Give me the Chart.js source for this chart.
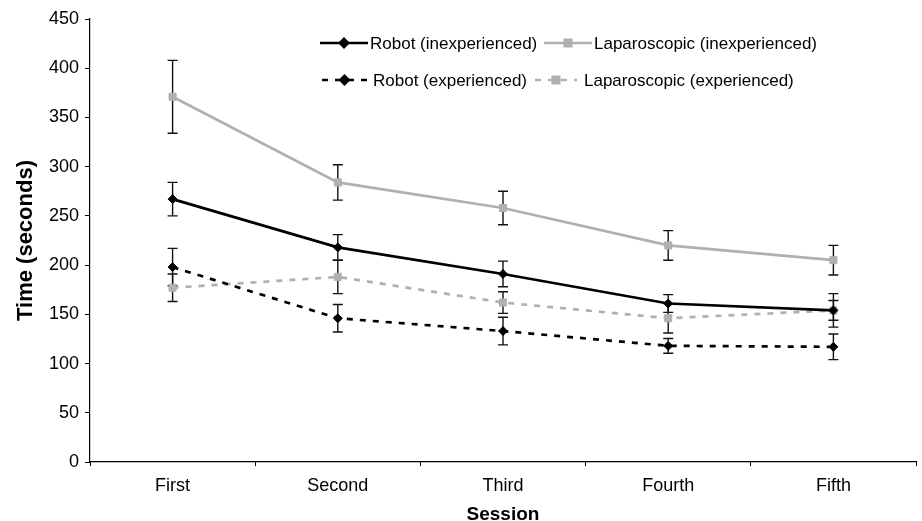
<!DOCTYPE html>
<html>
<head>
<meta charset="utf-8">
<script src="https://cdn.jsdelivr.net/npm/chart.js@4"></script>
<style>
  html, body { margin: 0; padding: 0; background: #fff; }
  #wrap { width: 922px; height: 521px; }
</style>
</head>
<body>
<div id="wrap"><canvas id="chart"></canvas></div>
<script>
// Data (seconds)
const sessions = ["First", "Second", "Third", "Fourth", "Fifth"];
const robotInexp = [267, 218, 191, 161, 154];
const robotInexpErr = [17, 13, 13, 9, 10];
const lapInexp = [371, 284, 258, 220, 205];
const lapInexpErr = [37, 18, 17, 15, 15];
const robotExp = [198, 146, 133, 118, 117];
const robotExpErr = [19, 14, 14, 7.5, 13];
const lapExp = [177, 188, 162, 146, 154];
const lapExpErr = [14, 17, 11, 15, 17];
const yTicks = [0, 50, 100, 150, 200, 250, 300, 350, 400, 450];

const FONT = "'Liberation Sans', Arial, Helvetica, sans-serif";
const GRAY = "#b0b0b0";

// Draw vertical error bars with caps
const errorBars = {
  id: "errorBars",
  beforeDatasetsDraw(chart) {
    const ctx = chart.ctx;
    const y = chart.scales.y;
    ctx.save();
    ctx.strokeStyle = "#111";
    ctx.lineWidth = 1.4;
    chart.data.datasets.forEach((ds, i) => {
      const meta = chart.getDatasetMeta(i);
      meta.data.forEach((pt, j) => {
        const top = y.getPixelForValue(ds.data[j] + ds.err[j]);
        const bot = y.getPixelForValue(ds.data[j] - ds.err[j]);
        ctx.beginPath();
        ctx.moveTo(pt.x, top); ctx.lineTo(pt.x, bot);
        ctx.moveTo(pt.x - 5, top); ctx.lineTo(pt.x + 5, top);
        ctx.moveTo(pt.x - 5, bot); ctx.lineTo(pt.x + 5, bot);
        ctx.stroke();
      });
    });
    ctx.restore();
  }
};

// Legend drawn inside the plot, two rows
const insideLegend = {
  id: "insideLegend",
  afterDraw(chart) {
    const ctx = chart.ctx;
    const spots = [
      { x: 320, y: 43, w: 48, tx: 370 },
      { x: 544, y: 43, w: 48, tx: 594 },
      { x: 322, y: 80, w: 45, tx: 373 },
      { x: 535, y: 80, w: 42, tx: 584 }
    ];
    ctx.save();
    ctx.font = "17px " + FONT;
    ctx.textBaseline = "middle";
    chart.data.datasets.forEach((ds, i) => {
      const s = spots[i];
      ctx.strokeStyle = ds.borderColor;
      ctx.lineWidth = ds.borderWidth;
      ctx.setLineDash(ds.borderDash || []);
      ctx.beginPath();
      ctx.moveTo(s.x, s.y); ctx.lineTo(s.x + s.w, s.y);
      ctx.stroke();
      ctx.setLineDash([]);
      ctx.fillStyle = ds.pointBackgroundColor;
      ctx.strokeStyle = ds.pointBackgroundColor;
      Chart.helpers.drawPoint(ctx, {
        pointStyle: ds.pointStyle, radius: ds.pointRadius - 0.5, borderWidth: 1, rotation: 0
      }, s.x + s.w / 2, s.y);
      ctx.fillStyle = "#000";
      ctx.fillText(ds.label, s.tx, s.y + 1);
    });
    ctx.restore();
  }
};

function series(label, data, err, color, style, radius, dash) {
  return {
    label, data, err,
    borderColor: color,
    borderWidth: 2.7,
    borderDash: dash,
    pointStyle: style,
    pointRadius: radius,
    pointHoverRadius: radius,
    pointBackgroundColor: color,
    pointBorderColor: color,
    pointBorderWidth: 1,
    tension: 0,
    fill: false
  };
}

new Chart(document.getElementById("chart"), {
  type: "line",
  data: {
    labels: sessions,
    datasets: [
      series("Robot (inexperienced)", robotInexp, robotInexpErr, "#000", "rectRot", 4.5, []),
      series("Laparoscopic (inexperienced)", lapInexp, lapInexpErr, GRAY, "rect", 5, []),
      series("Robot (experienced)", robotExp, robotExpErr, "#000", "rectRot", 4.5, [6, 7]),
      series("Laparoscopic (experienced)", lapExp, lapExpErr, GRAY, "rect", 5, [6, 7])
    ]
  },
  options: {
    responsive: true,
    maintainAspectRatio: false,
    animation: false,
    layout: { padding: { top: 19, right: 2, left: 0, bottom: 0 } },
    plugins: {
      legend: { display: false },
      tooltip: { enabled: false }
    },
    scales: {
      x: {
        offset: true,
        grid: { offset: true, drawOnChartArea: false, tickLength: 4, color: "#000" },
        border: { color: "#000", width: 1.2 },
        ticks: { color: "#000", font: { family: FONT, size: 18 }, padding: 9, maxRotation: 0 },
        title: {
          display: true, text: "Session", color: "#000",
          font: { family: FONT, size: 19, weight: "bold", lineHeight: 1.2 },
          padding: { top: 0, bottom: -5 }
        },
        afterFit(scale) { scale.height = 59; }
      },
      y: {
        min: 0, max: 450,
        afterBuildTicks(scale) { scale.ticks = yTicks.map(v => ({ value: v })); },
        grid: { drawOnChartArea: false, tickLength: 5, color: "#000" },
        border: { color: "#000", width: 1.2 },
        ticks: { color: "#000", font: { family: FONT, size: 18 }, padding: 6 },
        title: {
          display: true, text: "Time (seconds)", color: "#000",
          font: { family: FONT, size: 22, weight: "bold", lineHeight: 1.2 },
          padding: { top: 13, bottom: 0 }
        },
        afterFit(scale) { scale.width = 90; }
      }
    }
  },
  plugins: [errorBars, insideLegend]
});
</script>
</body>
</html>
